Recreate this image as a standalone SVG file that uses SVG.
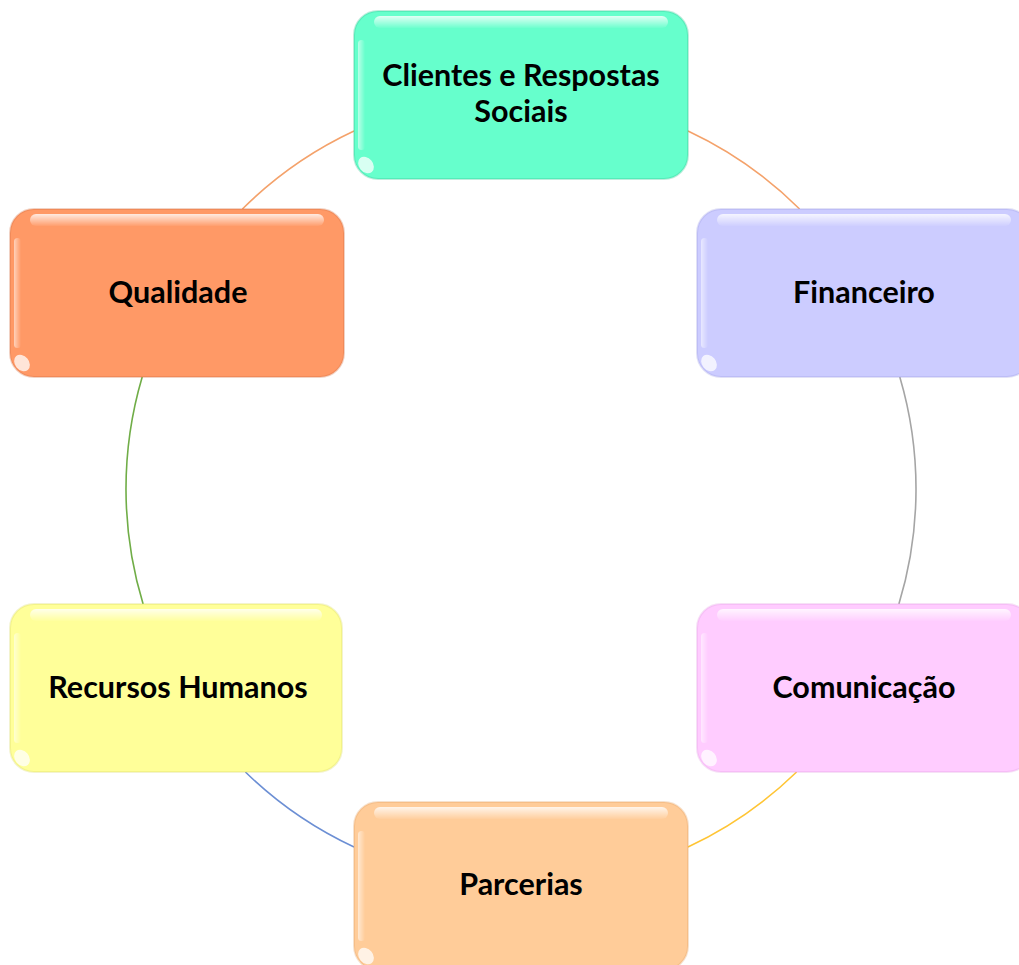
<svg xmlns="http://www.w3.org/2000/svg" width="1019" height="965" viewBox="0 0 1019 965">
<style>
.lbl{font-family:Lato,"Liberation Sans",sans-serif;font-weight:700;font-size:30.5px;fill:#000;text-anchor:middle}
.box{stroke-width:2;stroke-opacity:0.3}
.arc{fill:none;stroke-width:1.6}
.hl{fill:url(#topHl)}
.lh{fill:url(#leftHl)}
.spot{fill:#fff;opacity:0.75}
</style>
<defs>
<linearGradient id="topHl" x1="0" y1="0" x2="0" y2="1">
<stop offset="0" stop-color="#fff" stop-opacity="0.8"/>
<stop offset="1" stop-color="#fff" stop-opacity="0.05"/>
</linearGradient>
<linearGradient id="leftHl" x1="0" y1="0" x2="1" y2="0">
<stop offset="0" stop-color="#fff" stop-opacity="0.55"/>
<stop offset="1" stop-color="#fff" stop-opacity="0"/>
</linearGradient>
</defs>
<rect width="1019" height="965" fill="#fff"/>
<g id="connectors">
<path class="arc" stroke="#F4A26B" d="M 242.4 209 A 395 395 0 0 1 354 131"/>
<path class="arc" stroke="#F4A26B" d="M 688 131 A 395 395 0 0 1 799.6 209"/>
<path class="arc" stroke="#A5A5A5" d="M 899.8 377 A 395 395 0 0 1 898.9 604"/>
<path class="arc" stroke="#FFC535" d="M 796.6 772 A 395 395 0 0 1 688 847"/>
<path class="arc" stroke="#6C8FD4" d="M 354 847 A 395 395 0 0 1 245.4 772"/>
<path class="arc" stroke="#70AD47" d="M 143.1 604 A 395 395 0 0 1 142.2 377"/>
</g>
<g id="node-clientes">
<rect class="box" x="354" y="11" width="334" height="168" rx="24" fill="#66FFCC" stroke="#2FBF90"/>
<rect class="hl" x="374" y="16" width="294" height="12" rx="6"/>
<rect class="lh" x="358" y="40" width="7" height="110" rx="3.5"/>
<ellipse class="spot" cx="366" cy="165" rx="7" ry="9" transform="rotate(-40 366 165)"/>
<text class="lbl" x="521" y="86">Clientes e Respostas</text>
<text class="lbl" x="521" y="122">Sociais</text>
</g>
<g id="node-qualidade">
<rect class="box" x="10" y="209" width="334" height="168" rx="24" fill="#FF9966" stroke="#D06A3A"/>
<rect class="hl" x="30" y="214" width="294" height="12" rx="6"/>
<rect class="lh" x="14" y="238" width="7" height="110" rx="3.5"/>
<ellipse class="spot" cx="22" cy="363" rx="7" ry="9" transform="rotate(-40 22 363)"/>
<text class="lbl" x="178" y="303">Qualidade</text>
</g>
<g id="node-financeiro">
<rect class="box" x="697" y="209" width="334" height="168" rx="24" fill="#CCCCFF" stroke="#9A9AE0"/>
<rect class="hl" x="717" y="214" width="294" height="12" rx="6"/>
<rect class="lh" x="701" y="238" width="7" height="110" rx="3.5"/>
<ellipse class="spot" cx="709" cy="363" rx="7" ry="9" transform="rotate(-40 709 363)"/>
<text class="lbl" x="864" y="303">Financeiro</text>
</g>
<g id="node-recursos">
<rect class="box" x="10" y="604" width="332" height="168" rx="24" fill="#FFFF99" stroke="#D8D860"/>
<rect class="hl" x="30" y="609" width="292" height="12" rx="6"/>
<rect class="lh" x="14" y="633" width="7" height="110" rx="3.5"/>
<ellipse class="spot" cx="22" cy="758" rx="7" ry="9" transform="rotate(-40 22 758)"/>
<text class="lbl" x="178" y="698">Recursos Humanos</text>
</g>
<g id="node-comunicacao">
<rect class="box" x="697" y="604" width="334" height="168" rx="24" fill="#FFCCFF" stroke="#E09AE0"/>
<rect class="hl" x="717" y="609" width="294" height="12" rx="6"/>
<rect class="lh" x="701" y="633" width="7" height="110" rx="3.5"/>
<ellipse class="spot" cx="709" cy="758" rx="7" ry="9" transform="rotate(-40 709 758)"/>
<text class="lbl" x="864" y="698">Comunicação</text>
</g>
<g id="node-parcerias">
<rect class="box" x="354" y="802" width="334" height="168" rx="24" fill="#FFCC99" stroke="#E0A060"/>
<rect class="hl" x="374" y="807" width="294" height="12" rx="6"/>
<rect class="lh" x="358" y="831" width="7" height="110" rx="3.5"/>
<ellipse class="spot" cx="366" cy="956" rx="7" ry="9" transform="rotate(-40 366 956)"/>
<text class="lbl" x="521" y="895">Parcerias</text>
</g>
</svg>
